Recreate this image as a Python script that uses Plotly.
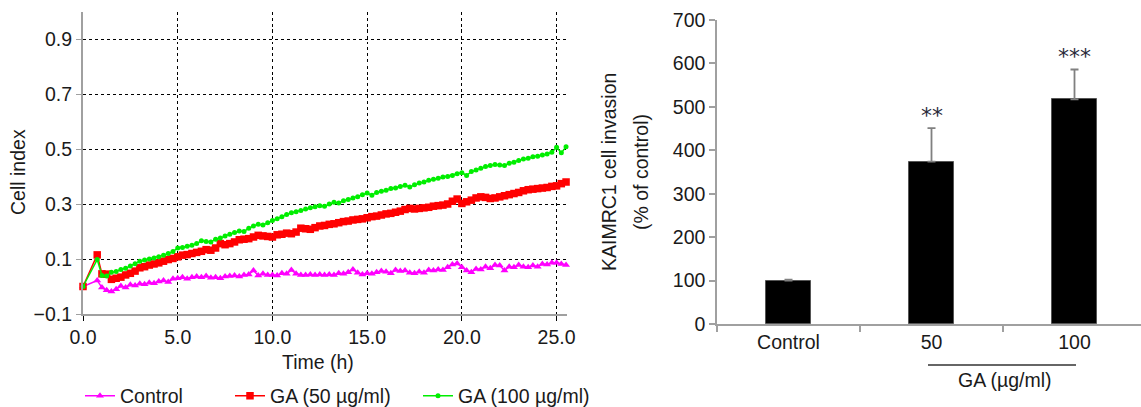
import plotly.graph_objects as go

# ---------------- data ----------------
time_h = [0.0, 0.75,
          1.0, 1.25, 1.5, 1.75, 2.0, 2.25, 2.5, 2.75, 3.0, 3.25, 3.5, 3.75,
          4.0, 4.25, 4.5, 4.75, 5.0, 5.25, 5.5, 5.75, 6.0, 6.25, 6.5, 6.75,
          7.0, 7.25, 7.5, 7.75, 8.0, 8.25, 8.5, 8.75, 9.0, 9.25, 9.5, 9.75,
          10.0, 10.25, 10.5, 10.75, 11.0, 11.25, 11.5, 11.75, 12.0, 12.25, 12.5, 12.75,
          13.0, 13.25, 13.5, 13.75, 14.0, 14.25, 14.5, 14.75, 15.0, 15.25, 15.5, 15.75,
          16.0, 16.25, 16.5, 16.75, 17.0, 17.25, 17.5, 17.75, 18.0, 18.25, 18.5, 18.75,
          19.0, 19.25, 19.5, 19.75, 20.0, 20.25, 20.5, 20.75, 21.0, 21.25, 21.5, 21.75,
          22.0, 22.25, 22.5, 22.75, 23.0, 23.25, 23.5, 23.75, 24.0, 24.25, 24.5, 24.75,
          25.0, 25.25, 25.5]

control_ci = [0.000, 0.022,
              -0.004, -0.014, -0.018, -0.010, 0.002, -0.004, 0.006, 0.004, 0.010, 0.008, 0.014, 0.012,
              0.018, 0.022, 0.016, 0.028, 0.030, 0.034, 0.028, 0.034, 0.036, 0.034, 0.038, 0.032,
              0.034, 0.030, 0.036, 0.038, 0.040, 0.036, 0.042, 0.044, 0.058, 0.040, 0.046, 0.042,
              0.042, 0.040, 0.048, 0.046, 0.060, 0.046, 0.042, 0.042, 0.044, 0.042, 0.044, 0.042,
              0.044, 0.042, 0.048, 0.046, 0.052, 0.062, 0.050, 0.044, 0.048, 0.046, 0.052, 0.056,
              0.054, 0.048, 0.060, 0.056, 0.058, 0.050, 0.048, 0.054, 0.050, 0.060, 0.058, 0.062,
              0.060, 0.070, 0.080, 0.084, 0.070, 0.058, 0.052, 0.064, 0.062, 0.072, 0.066, 0.078,
              0.076, 0.058, 0.072, 0.070, 0.078, 0.072, 0.070, 0.076, 0.072, 0.082, 0.080, 0.086,
              0.086, 0.082, 0.078]

ga50_ci = [0.000, 0.115,
           0.046, 0.045, 0.026, 0.030, 0.034, 0.042, 0.048, 0.056, 0.068, 0.072, 0.078, 0.082,
           0.086, 0.092, 0.098, 0.102, 0.108, 0.114, 0.116, 0.120, 0.124, 0.128, 0.134, 0.132,
           0.140, 0.156, 0.152, 0.156, 0.162, 0.170, 0.172, 0.174, 0.180, 0.186, 0.184, 0.182,
           0.180, 0.188, 0.190, 0.194, 0.192, 0.198, 0.212, 0.210, 0.208, 0.214, 0.220, 0.222,
           0.226, 0.228, 0.232, 0.236, 0.238, 0.242, 0.244, 0.246, 0.250, 0.254, 0.256, 0.260,
           0.264, 0.266, 0.270, 0.274, 0.280, 0.284, 0.282, 0.284, 0.286, 0.288, 0.292, 0.294,
           0.296, 0.300, 0.310, 0.318, 0.302, 0.308, 0.314, 0.322, 0.326, 0.324, 0.320, 0.322,
           0.326, 0.330, 0.334, 0.338, 0.342, 0.348, 0.352, 0.354, 0.356, 0.358, 0.360, 0.364,
           0.366, 0.374, 0.380]

ga100_ci = [0.000, 0.098,
            0.040, 0.038, 0.052, 0.055, 0.062, 0.066, 0.075, 0.083, 0.092, 0.096, 0.100, 0.104,
            0.108, 0.114, 0.120, 0.127, 0.140, 0.142, 0.146, 0.150, 0.156, 0.166, 0.164, 0.162,
            0.172, 0.176, 0.184, 0.190, 0.196, 0.202, 0.200, 0.212, 0.220, 0.226, 0.224, 0.232,
            0.240, 0.246, 0.254, 0.262, 0.268, 0.272, 0.276, 0.282, 0.286, 0.290, 0.294, 0.292,
            0.300, 0.306, 0.304, 0.312, 0.316, 0.322, 0.326, 0.334, 0.340, 0.332, 0.342, 0.346,
            0.350, 0.356, 0.358, 0.364, 0.368, 0.362, 0.370, 0.376, 0.380, 0.386, 0.390, 0.394,
            0.398, 0.400, 0.404, 0.410, 0.414, 0.404, 0.418, 0.424, 0.430, 0.436, 0.440, 0.444,
            0.442, 0.440, 0.448, 0.452, 0.458, 0.464, 0.466, 0.472, 0.474, 0.478, 0.482, 0.488,
            0.506, 0.486, 0.508]

line_x_ticks = [0, 5, 10, 15, 20, 25]
line_x_labels = ["0.0", "5.0", "10.0", "15.0", "20.0", "25.0"]
line_y_ticks = [-0.1, 0.1, 0.3, 0.5, 0.7, 0.9]
line_y_labels = ["\u22120.1", "0.1", "0.3", "0.5", "0.7", "0.9"]

bar_categories = ["Control", "50", "100"]
bar_values = [100, 374, 517]
bar_errors = [2, 77, 69]
bar_stars = ["", "**", "***"]

# ---------------- figure ----------------
W, H = 1141, 407
FONT = "Liberation Sans, Arial, sans-serif"
FS = 19.5
TXT = "#1a1a1a"
AXG = "#a0a0a0"

fig = go.Figure()

fig.add_trace(go.Scatter(
    x=time_h, y=control_ci, mode="lines+markers", name="Control",
    line=dict(color="#ff00ff", width=1.5),
    marker=dict(symbol="triangle-up", size=7, color="#ff00ff"),
    xaxis="x", yaxis="y", legend="legend", cliponaxis=False))
fig.add_trace(go.Scatter(
    x=time_h, y=ga50_ci, mode="lines+markers", name="GA (50 \u00b5g/ml)",
    line=dict(color="#ff0000", width=1.5),
    marker=dict(symbol="square", size=7.5, color="#ff0000"),
    xaxis="x", yaxis="y", legend="legend2", cliponaxis=False))
fig.add_trace(go.Scatter(
    x=time_h, y=ga100_ci, mode="lines+markers", name="GA (100 \u00b5g/ml)",
    line=dict(color="#00ee00", width=1.5),
    marker=dict(symbol="circle", size=5, color="#00ee00"),
    xaxis="x", yaxis="y", legend="legend3", cliponaxis=False))

fig.add_trace(go.Bar(
    x=bar_categories, y=bar_values, width=0.315,
    marker=dict(color="#000000", line=dict(color="#555555", width=1)),
    error_y=dict(type="data", symmetric=False, array=bar_errors,
                 arrayminus=[0, 0, 0], color="#808080", thickness=1.8, width=4),
    xaxis="x2", yaxis="y2", showlegend=False))


def px(x):
    return x / W


def py(y):
    return (H - y) / H


leg_common = dict(orientation="h", yanchor="middle", xanchor="left",
                  y=py(396), bgcolor="rgba(0,0,0,0)", borderwidth=0,
                  font=dict(family=FONT, size=FS, color=TXT), itemwidth=30)

fig.update_layout(
    width=W, height=H,
    margin=dict(l=0, r=0, t=0, b=0, pad=0, autoexpand=False),
    paper_bgcolor="white", plot_bgcolor="white",
    font=dict(family=FONT, size=FS, color=TXT),
    legend=dict(x=px(80), **leg_common),
    legend2=dict(x=px(230), **leg_common),
    legend3=dict(x=px(418), **leg_common),
    xaxis=dict(domain=[px(83), px(567)], range=[0, 25.55], anchor="y",
               tickvals=line_x_ticks, ticktext=line_x_labels,
               showgrid=True, gridcolor="#000000", griddash="dot", gridwidth=1,
               showline=True, linecolor=AXG, linewidth=2,
               ticks="outside", ticklen=5, tickcolor="#000000", tickwidth=1,
               zeroline=False, automargin=False, tickfont=dict(size=FS, color=TXT)),
    yaxis=dict(domain=[py(314), py(11.5)], range=[-0.1, 1.0], anchor="x",
               tickvals=line_y_ticks, ticktext=line_y_labels,
               showgrid=True, gridcolor="#000000", griddash="dot", gridwidth=1,
               showline=True, linecolor=AXG, linewidth=2,
               ticks="outside", ticklen=5, tickcolor=AXG, tickwidth=1,
               zeroline=False, automargin=False, tickfont=dict(size=FS, color=TXT)),
    xaxis2=dict(domain=[px(717), 1.0], range=[-0.5, 2.465], anchor="y2",
                type="category", tickson="boundaries",
                showgrid=False, showline=True, linecolor=AXG, linewidth=1.5,
                ticks="outside", ticklen=6, tickcolor=AXG, tickwidth=1.5,
                zeroline=False, automargin=False, tickfont=dict(size=FS, color=TXT)),
    yaxis2=dict(domain=[py(324), py(20)], range=[0, 700], anchor="x2",
                tickvals=[0, 100, 200, 300, 400, 500, 600, 700],
                showgrid=False, showline=True, linecolor=AXG, linewidth=1.5,
                ticks="outside", ticklen=6, tickcolor=AXG, tickwidth=1.5,
                zeroline=False, automargin=False, tickfont=dict(size=FS, color=TXT)),
    bargap=0.0,
)

ann_base = dict(xref="paper", yref="paper", showarrow=False,
                xanchor="center", yanchor="middle", font=dict(size=FS, color=TXT))
annots = [
    dict(text="Time (h)", x=px(318), y=py(362), **ann_base),
    dict(text="Cell index", x=px(18), y=py(172), textangle=-90, **ann_base),
    dict(text="KAIMRC1 cell invasion", x=px(609), y=py(172), textangle=-90, **ann_base),
    dict(text="(% of control)", x=px(641), y=py(172), textangle=-90, **ann_base),
    dict(text="GA (\u00b5g/ml)", x=px(1005), y=py(380), **ann_base),
]
for i, (val, err, star) in enumerate(zip(bar_values, bar_errors, bar_stars)):
    if star:
        annots.append(dict(text=star, x=i, y=val + err, xref="x2", yref="y2",
                           xanchor="center", yanchor="middle",
                           yshift=13, showarrow=False,
                           font=dict(family="DejaVu Sans", size=22, color="#2a2a3a")))
fig.update_layout(annotations=annots)

fig.add_shape(type="line", xref="paper", yref="paper",
              x0=px(928), x1=px(1076), y0=py(365), y1=py(365),
              line=dict(color="#333333", width=1.5))

fig.write_html("out.html")
